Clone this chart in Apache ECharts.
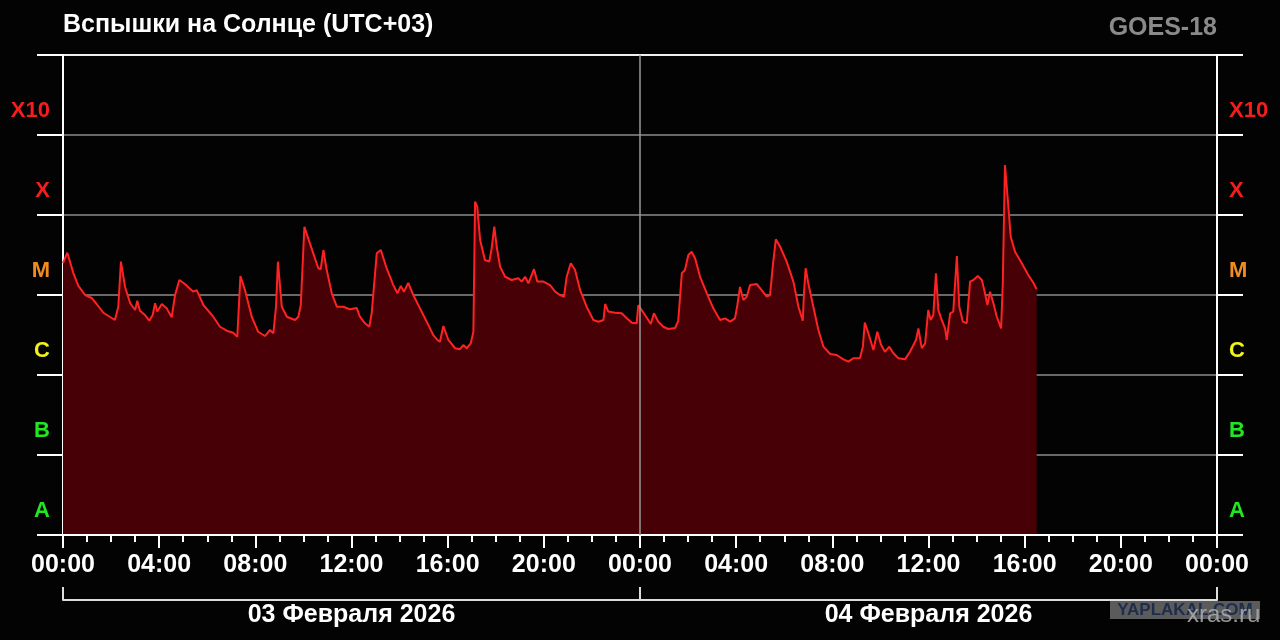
<!DOCTYPE html>
<html>
<head>
<meta charset="utf-8">
<title>Вспышки на Солнце</title>
<script src="https://cdn.jsdelivr.net/npm/echarts@6/dist/echarts.min.js"></script>
<style>
  html, body { margin: 0; padding: 0; background: #030303; }
  #chart { width: 1280px; height: 640px; }
</style>
</head>
<body>
<div id="chart"></div>
<script>
'use strict';

// время в часах от 00:00 03.02.2026 (UTC+03)
var hours = [
    0.00, 0.18, 0.43, 0.64, 0.92, 1.19, 1.40, 1.68, 1.96, 2.16,
    2.30, 2.41, 2.58, 2.79, 3.00, 3.09, 3.20, 3.41, 3.59, 3.73,
    3.83, 3.92, 4.11, 4.31, 4.52, 4.66, 4.84, 5.07, 5.42, 5.56,
    5.84, 6.25, 6.53, 6.81, 7.08, 7.25, 7.38, 7.57, 7.85, 8.12,
    8.40, 8.61, 8.75, 8.86, 8.94, 9.10, 9.31, 9.65, 9.79, 9.89,
    10.04, 10.20, 10.41, 10.62, 10.72, 10.83, 10.97, 11.18, 11.39, 11.66,
    11.94, 12.22, 12.35, 12.56, 12.74, 12.84, 13.05, 13.22, 13.46, 13.74,
    13.91, 14.05, 14.18, 14.36, 14.57, 14.85, 15.13, 15.40, 15.57, 15.68,
    15.82, 16.03, 16.31, 16.51, 16.65, 16.79, 16.96, 17.07, 17.14, 17.23,
    17.35, 17.55, 17.73, 17.83, 17.94, 18.04, 18.18, 18.39, 18.66, 18.94,
    19.08, 19.22, 19.36, 19.59, 19.73, 19.98, 20.26, 20.47, 20.67, 20.84,
    20.95, 21.12, 21.30, 21.51, 21.78, 22.06, 22.27, 22.48, 22.55, 22.68,
    22.96, 23.24, 23.45, 23.66, 23.86, 23.93, 24.07, 24.21, 24.45, 24.58,
    24.76, 24.97, 25.18, 25.46, 25.59, 25.74, 25.87, 26.01, 26.15, 26.29,
    26.50, 26.78, 27.05, 27.33, 27.54, 27.75, 27.95, 28.05, 28.16, 28.30,
    28.44, 28.58, 28.86, 29.06, 29.27, 29.41, 29.52, 29.65, 29.83, 30.10,
    30.38, 30.59, 30.77, 30.82, 30.89, 31.00, 31.21, 31.42, 31.63, 31.91,
    32.18, 32.46, 32.67, 32.87, 33.15, 33.27, 33.35, 33.50, 33.71, 33.87,
    34.03, 34.19, 34.37, 34.54, 34.75, 35.02, 35.23, 35.48, 35.58, 35.72,
    35.86, 35.99, 36.09, 36.20, 36.31, 36.41, 36.55, 36.69, 36.76, 36.90,
    37.03, 37.10, 37.18, 37.28, 37.43, 37.59, 37.66, 37.73, 37.87, 38.05,
    38.22, 38.35, 38.45, 38.56, 38.70, 38.84, 39.02, 39.09, 39.18, 39.30,
    39.42, 39.60, 39.88, 40.15, 40.36, 40.50
];

// поток рентгеновского излучения, Вт/м2
var flux = [
    2.51e-5, 3.38e-5, 1.88e-5, 1.30e-5, 1.00e-5, 9.18e-6, 7.72e-6, 6.00e-6, 5.31e-6, 4.87e-6,
    7.14e-6, 2.61e-5, 1.27e-5, 7.94e-6, 6.49e-6, 8.49e-6, 6.37e-6, 5.62e-6, 4.77e-6, 5.62e-6,
    7.88e-6, 6.20e-6, 7.72e-6, 6.81e-6, 5.26e-6, 1.00e-5, 1.54e-5, 1.37e-5, 1.10e-5, 1.15e-5,
    7.50e-6, 5.35e-6, 4.01e-6, 3.58e-6, 3.38e-6, 3.01e-6, 1.73e-5, 1.15e-5, 5.35e-6, 3.47e-6,
    3.07e-6, 3.65e-6, 3.32e-6, 7.14e-6, 2.61e-5, 7.14e-6, 5.35e-6, 4.87e-6, 5.35e-6, 7.50e-6,
    7.14e-5, 5.11e-5, 3.32e-5, 2.16e-5, 2.10e-5, 3.65e-5, 2.05e-5, 1.05e-5, 7.14e-6, 7.14e-6,
    6.62e-6, 6.87e-6, 5.35e-6, 4.43e-6, 4.01e-6, 5.91e-6, 3.32e-5, 3.65e-5, 2.16e-5, 1.33e-5,
    1.05e-5, 1.30e-5, 1.10e-5, 1.42e-5, 1.00e-5, 6.81e-6, 4.64e-6, 3.16e-6, 2.74e-6, 2.61e-6,
    4.10e-6, 2.74e-6, 2.16e-6, 2.10e-6, 2.37e-6, 2.16e-6, 2.49e-6, 3.47e-6, 1.47e-4, 1.27e-4,
    4.87e-5, 2.74e-5, 2.61e-5, 3.83e-5, 7.14e-5, 4.01e-5, 2.26e-5, 1.69e-5, 1.54e-5, 1.62e-5,
    1.47e-5, 1.69e-5, 1.40e-5, 2.10e-5, 1.47e-5, 1.47e-5, 1.33e-5, 1.10e-5, 1.00e-5, 9.52e-6,
    1.69e-5, 2.49e-5, 2.05e-5, 1.15e-5, 7.14e-6, 4.87e-6, 4.64e-6, 4.87e-6, 7.72e-6, 6.20e-6,
    6.00e-6, 5.91e-6, 5.11e-6, 4.51e-6, 4.43e-6, 7.50e-6, 6.49e-6, 5.62e-6, 4.35e-6, 5.91e-6,
    4.64e-6, 4.01e-6, 3.76e-6, 3.87e-6, 4.73e-6, 1.87e-5, 2.05e-5, 3.16e-5, 3.47e-5, 2.88e-5,
    1.69e-5, 1.05e-5, 6.81e-6, 4.87e-6, 5.11e-6, 4.64e-6, 5.11e-6, 7.50e-6, 1.26e-5, 8.66e-6,
    9.52e-6, 1.33e-5, 1.37e-5, 1.15e-5, 9.52e-6, 1.00e-5, 2.26e-5, 4.97e-5, 4.01e-5, 2.61e-5,
    1.47e-5, 7.14e-6, 4.77e-6, 1.05e-5, 2.16e-5, 1.40e-5, 7.14e-6, 3.65e-6, 2.26e-6, 1.83e-6,
    1.78e-6, 1.57e-6, 1.47e-6, 1.62e-6, 1.63e-6, 2.26e-6, 4.51e-6, 3.32e-6, 2.05e-6, 3.47e-6,
    2.37e-6, 1.95e-6, 2.26e-6, 1.87e-6, 1.62e-6, 1.57e-6, 1.95e-6, 2.74e-6, 3.81e-6, 2.17e-6,
    2.49e-6, 6.49e-6, 4.87e-6, 5.62e-6, 1.87e-5, 6.49e-6, 4.87e-6, 3.83e-6, 2.74e-6, 5.91e-6,
    6.20e-6, 5.91e-6, 3.07e-5, 7.14e-6, 4.64e-6, 4.43e-6, 4.22e-6, 1.47e-5, 1.54e-5, 1.73e-5,
    1.54e-5, 1.05e-5, 7.50e-6, 1.10e-5, 7.88e-6, 5.35e-6, 3.83e-6, 1.40e-5, 4.22e-4, 1.54e-4,
    5.35e-5, 3.47e-5, 2.49e-5, 1.78e-5, 1.42e-5, 1.18e-5
];

// классы вспышек, от 1e-8 до 1e-3
var classNames = ['A', 'B', 'C', 'M', 'X', 'X10'];
var classColors = ['#22e622', '#22e622', '#f2f21a', '#f28c1e', '#f51d1d', '#f51d1d'];
var dayNames = ['03 Февраля 2026', '04 Февраля 2026'];

var FONT = '"Liberation Sans", Arial, sans-serif';

function classIndex(v) {
    return Math.round(Math.log10(v)) + 8;
}

function makeClassAxis(position) {
    var left = position === 'left';
    return {
        type: 'log',
        logBase: 10,
        gridIndex: 0,
        position: position,
        min: 1e-8,
        max: 1e-2,
        interval: 1,
        splitNumber: 6,
        axisLine: { show: true, lineStyle: { color: '#fff', width: 2 } },
        axisTick: { show: true, inside: false, length: 26, lineStyle: { color: '#fff', width: 2 } },
        axisLabel: {
            margin: left ? 13 : 12,
            fontFamily: FONT,
            fontWeight: 'bold',
            fontSize: 22,
            verticalAlign: 'bottom',
            lineHeight: 48,
            formatter: function(v) {
                return classNames[classIndex(v)] || '';
            },
            color: function(v) {
                return classColors[classIndex(v)] || '#fff';
            }
        },
        splitLine: {
            show: left,
            lineStyle: {
                color: ['#fff', '#8c8c8c', '#8c8c8c', '#8c8c8c', '#8c8c8c', '#8c8c8c', '#fff'],
                width: 1.5
            }
        }
    };
}

var seriesData = [];
for (var i = 0, len = hours.length; i < len; i++) {
    seriesData.push([hours[i], flux[i]]);
}

var chart = echarts.init(document.getElementById('chart'));

var option = {
    backgroundColor: '#030303',
    animation: false,
    title: [
        {
            text: 'Вспышки на Солнце (UTC+03)',
            left: 58,
            top: 8,
            textStyle: { color: '#fff', fontFamily: FONT, fontWeight: 'bold', fontSize: 25 }
        },
        {
            text: 'GOES-18',
            right: 58,
            top: 11,
            textStyle: { color: '#8a8a8a', fontFamily: FONT, fontWeight: 'bold', fontSize: 25 }
        }
    ],
    grid: [
        { left: 63, right: 63, top: 55, bottom: 105 },
        { left: 63, right: 63, top: 55, bottom: 105 }
    ],
    xAxis: [
        {
            type: 'value',
            gridIndex: 0,
            min: 0,
            max: 48,
            interval: 4,
            z: 3,
            axisLine: { show: true, lineStyle: { color: '#fff', width: 2 } },
            axisTick: { show: true, length: 13, lineStyle: { color: '#fff', width: 2 } },
            minorTick: { show: true, splitNumber: 4, length: 7, lineStyle: { color: '#fff', width: 2 } },
            axisLabel: {
                margin: 18,
                color: '#fff',
                fontFamily: FONT,
                fontWeight: 'bold',
                fontSize: 25,
                formatter: function(v) {
                    var h = v % 24;
                    return (h < 10 ? '0' + h : h) + ':00';
                }
            },
            splitLine: { show: false }
        },
        {
            // подписи дней под шкалой времени
            type: 'category',
            gridIndex: 1,
            position: 'bottom',
            offset: 65,
            data: dayNames,
            boundaryGap: true,
            axisLine: { show: true, onZero: false, lineStyle: { color: '#ddd', width: 2 } },
            axisTick: { show: true, inside: true, length: 13, lineStyle: { color: '#ddd', width: 2 } },
            axisLabel: {
                margin: 3,
                color: '#fff',
                fontFamily: FONT,
                fontWeight: 'bold',
                fontSize: 25
            },
            splitLine: { show: false }
        }
    ],
    yAxis: [
        makeClassAxis('left'),
        makeClassAxis('right'),
        { type: 'value', gridIndex: 1, min: 0, max: 1, show: false }
    ],
    graphic: [
        {
            type: 'rect',
            shape: { x: 1110, y: 601, width: 150, height: 18 },
            style: { fill: '#5b5b5b' }
        },
        {
            type: 'text',
            x: 1185,
            y: 610,
            style: {
                text: 'YAPLAKAL.COM',
                fill: '#1d2d4b',
                font: 'bold 17px ' + FONT,
                align: 'center',
                verticalAlign: 'middle'
            }
        },
        {
            type: 'text',
            x: 1187,
            y: 615,
            style: {
                text: 'xras.ru',
                fill: 'rgba(175,175,175,0.85)',
                font: '24px ' + FONT,
                verticalAlign: 'middle'
            }
        }
    ],
    series: [
        {
            type: 'line',
            xAxisIndex: 0,
            yAxisIndex: 0,
            data: seriesData,
            showSymbol: false,
            symbol: 'none',
            lineStyle: { color: '#ff2222', width: 2 },
            areaStyle: { color: '#470006', opacity: 1, origin: 'start' },
            markLine: {
                silent: true,
                symbol: 'none',
                label: { show: false },
                lineStyle: { color: '#9a9a9a', type: 'solid', width: 1.5 },
                data: [{ xAxis: 24 }]
            }
        }
    ]
};

chart.setOption(option);
</script>
</body>
</html>
